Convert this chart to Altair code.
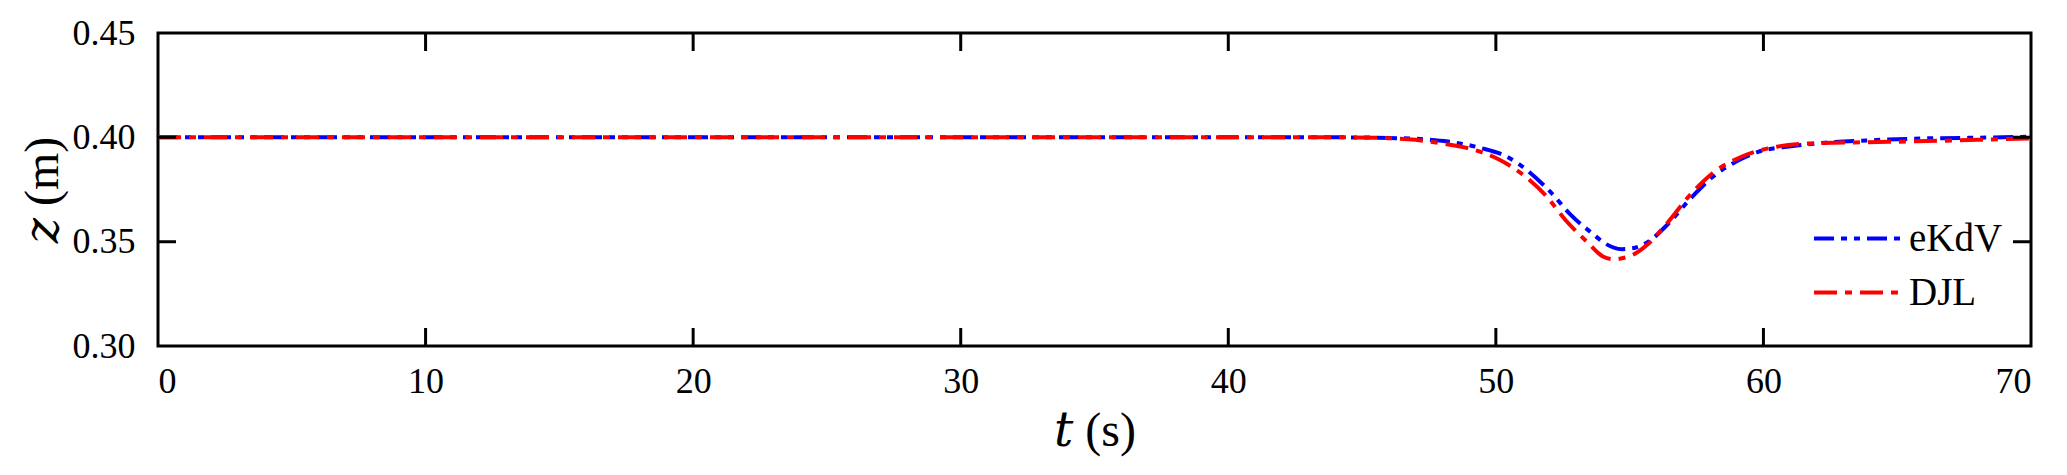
import altair as alt
import pandas as pd

# ---- data ----
ekdv_t = [0, 10, 20, 30, 40, 44, 46, 47.4, 48.2, 49.4, 50.4, 51.3, 52.1, 52.8, 53.6,
          54.1, 54.7, 55.1, 55.7, 56.4, 57.3, 58.1, 59.0, 59.8, 61.1, 62.3, 64.2, 66.1, 68, 70]
ekdv_z = [0.400, 0.400, 0.400, 0.400, 0.400, 0.400, 0.3997, 0.399, 0.398, 0.395, 0.3908,
          0.3828, 0.373, 0.3628, 0.354, 0.349, 0.3464, 0.3468, 0.350, 0.358, 0.371, 0.381,
          0.3885, 0.393, 0.3958, 0.3974, 0.3987, 0.3995, 0.3998, 0.4003]

djl_t = [0, 10, 20, 30, 40, 44, 46, 47, 48.0, 49.1, 50.1, 51.1, 51.9, 52.6, 53.4, 54.0,
         54.4, 55.1, 55.7, 56.4, 57.3, 58.1, 59.2, 60.5, 61.7, 63.6, 66.1, 68, 70]
djl_z = [0.400, 0.400, 0.400, 0.400, 0.400, 0.400, 0.3996, 0.3988, 0.397, 0.3943, 0.3895,
         0.3812, 0.3716, 0.3604, 0.350, 0.3429, 0.3416, 0.3436, 0.349, 0.3588, 0.373,
         0.3828, 0.3908, 0.3955, 0.3971, 0.3976, 0.3982, 0.3988, 0.3995]

series_names = ["eKdV", "DJL"]
series_colors = ["#0000ff", "#ff0000"]
series_dashes = [[20, 7, 6, 7, 6, 7], [23, 8, 7, 8]]

x_ticks = [0, 10, 20, 30, 40, 50, 60, 70]
y_ticks = [0.30, 0.35, 0.40, 0.45]
x_domain = [0, 70]
y_domain = [0.30, 0.45]

FONT = "Liberation Serif"
TITLE_FONT = "Liberation Serif, DejaVu Serif"

rows = [{"t": t, "z": z, "model": "eKdV"} for t, z in zip(ekdv_t, ekdv_z)]
rows += [{"t": t, "z": z, "model": "DJL"} for t, z in zip(djl_t, djl_z)]
df = pd.DataFrame(rows)

xscale = alt.Scale(domain=x_domain, nice=False, zero=False)
yscale = alt.Scale(domain=y_domain, nice=False, zero=False)

legend = alt.Legend(title=None, orient="none", legendX=1680, legendY=186,
                    symbolType="M-3,0H3", symbolSize=841, symbolStrokeWidth=4,
                    labelFont=FONT, labelFontSize=39, labelOffset=32,
                    rowPadding=14, padding=0, labelColor="black")

lines = alt.Chart(df).mark_line(strokeWidth=4, interpolate="monotone",
                                strokeCap="butt", clip=True).encode(
    x=alt.X("t:Q", scale=xscale,
            axis=alt.Axis(values=x_ticks, title="𝑡 (s)", format="d",
                          tickSize=0, domain=False, grid=False,
                          labelPadding=18, titlePadding=8)),
    y=alt.Y("z:Q", scale=yscale,
            axis=alt.Axis(values=y_ticks, title="𝑧 (m)", format=".2f",
                          tickSize=0, domain=False, grid=False,
                          labelPadding=23, titlePadding=5)),
    color=alt.Color("model:N",
                    scale=alt.Scale(domain=series_names, range=series_colors),
                    legend=legend),
    strokeDash=alt.StrokeDash("model:N",
                              scale=alt.Scale(domain=series_names, range=series_dashes),
                              legend=legend),
    order=alt.Order("ord:Q"),
).transform_calculate(ord="datum.model == 'eKdV' ? 0 : 1")

# inward tick marks on all four sides (half of each tick is clipped away)
xt = pd.DataFrame([{"t": t, "z": z} for t in x_ticks[1:-1] for z in y_domain])
yt = pd.DataFrame([{"t": t, "z": z} for t in x_domain for z in y_ticks[1:-1]])

xtick_layer = alt.Chart(xt).mark_tick(orient="vertical", size=36, thickness=3,
                                      color="black", opacity=1, clip=True).encode(
    x=alt.X("t:Q", scale=xscale), y=alt.Y("z:Q", scale=yscale))
ytick_layer = alt.Chart(yt).mark_tick(orient="horizontal", size=36, thickness=3,
                                      color="black", opacity=1, clip=True).encode(
    x=alt.X("t:Q", scale=xscale), y=alt.Y("z:Q", scale=yscale))

chart = alt.layer(lines, xtick_layer, ytick_layer).properties(
    width=1873, height=313,
    background="white",
    padding={"left": 11, "top": 7, "right": 5, "bottom": 5},
).configure_view(
    stroke="black", strokeWidth=3
).configure_axis(
    labelFont=FONT, labelFontSize=36, labelColor="black",
    titleFont=TITLE_FONT, titleFontSize=48, titleFontWeight="normal", titleColor="black",
).configure_legend(
    labelFont=FONT, labelFontSize=39, labelColor="black",
)

chart.save("out.html", embed_options={"renderer": "svg", "actions": False})
